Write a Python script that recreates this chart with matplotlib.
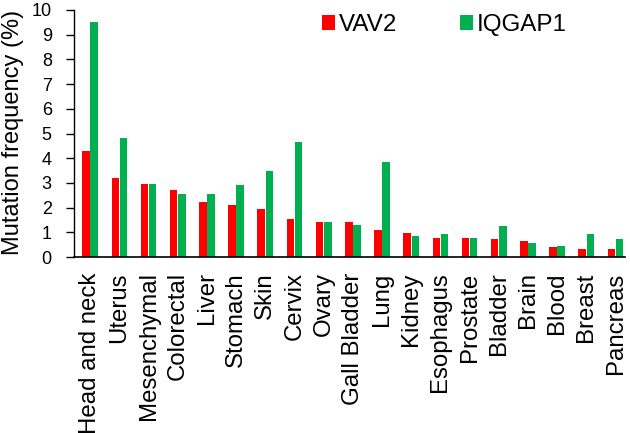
import matplotlib
matplotlib.use("Agg")
import matplotlib.pyplot as plt
import numpy as np

plt.rcParams['font.family'] = ['Liberation Sans', 'DejaVu Sans']

tissues = ['Head and neck', 'Uterus', 'Mesenchymal', 'Colorectal', 'Liver',
           'Stomach', 'Skin', 'Cervix', 'Ovary', 'Gall Bladder', 'Lung',
           'Kidney', 'Esophagus', 'Prostate', 'Bladder', 'Brain', 'Blood',
           'Breast', 'Pancreas']
vav2 = [4.31, 3.20, 2.95, 2.70, 2.22, 2.11, 1.95, 1.55, 1.42, 1.41, 1.09,
        0.97, 0.78, 0.76, 0.74, 0.65, 0.39, 0.31, 0.31]
iqgap1 = [9.52, 4.81, 2.95, 2.54, 2.54, 2.92, 3.47, 4.65, 1.42, 1.28, 3.86,
          0.86, 0.95, 0.78, 1.26, 0.55, 0.45, 0.95, 0.74]

x = np.arange(len(tissues))
w = 0.26

fig = plt.figure(figsize=(6.3, 4.33), dpi=100)
ax = fig.add_axes([74/630, 1-257/433, 551/630, 247/433])

ax.bar(x - w/2 - 0.01, vav2, width=w, color='#FF0000', label='VAV2')
ax.bar(x + w/2 + 0.01, iqgap1, width=w, color='#00B050', label='IQGAP1')

ax.set_xlim(-0.555, 18.325)
ax.set_ylim(0, 10)
ax.set_yticks(range(0, 11))
ax.set_xticks(x)
ax.set_xticklabels(tissues, rotation=90, fontsize=17.3)
ax.tick_params(axis='x', length=0, pad=11)
ax.tick_params(axis='y', direction='out', length=6, width=1, pad=10, labelsize=13)

ax.spines['top'].set_visible(False)
ax.spines['right'].set_visible(False)
ax.spines['left'].set_linewidth(1)
ax.spines['bottom'].set_linewidth(1.2)

ax.set_ylabel('Mutation frequency (%)', fontsize=17)
ax.yaxis.set_label_coords(-0.09, 0.505)

ax.legend(loc='center left', bbox_to_anchor=(322/630, 1-25/433),
          bbox_transform=fig.transFigure, ncol=2, frameon=False,
          fontsize=17.4, handlelength=0.55, handleheight=0.55,
          handletextpad=0.15, columnspacing=2.6, borderpad=0,
          borderaxespad=0)

plt.savefig("out.png")
